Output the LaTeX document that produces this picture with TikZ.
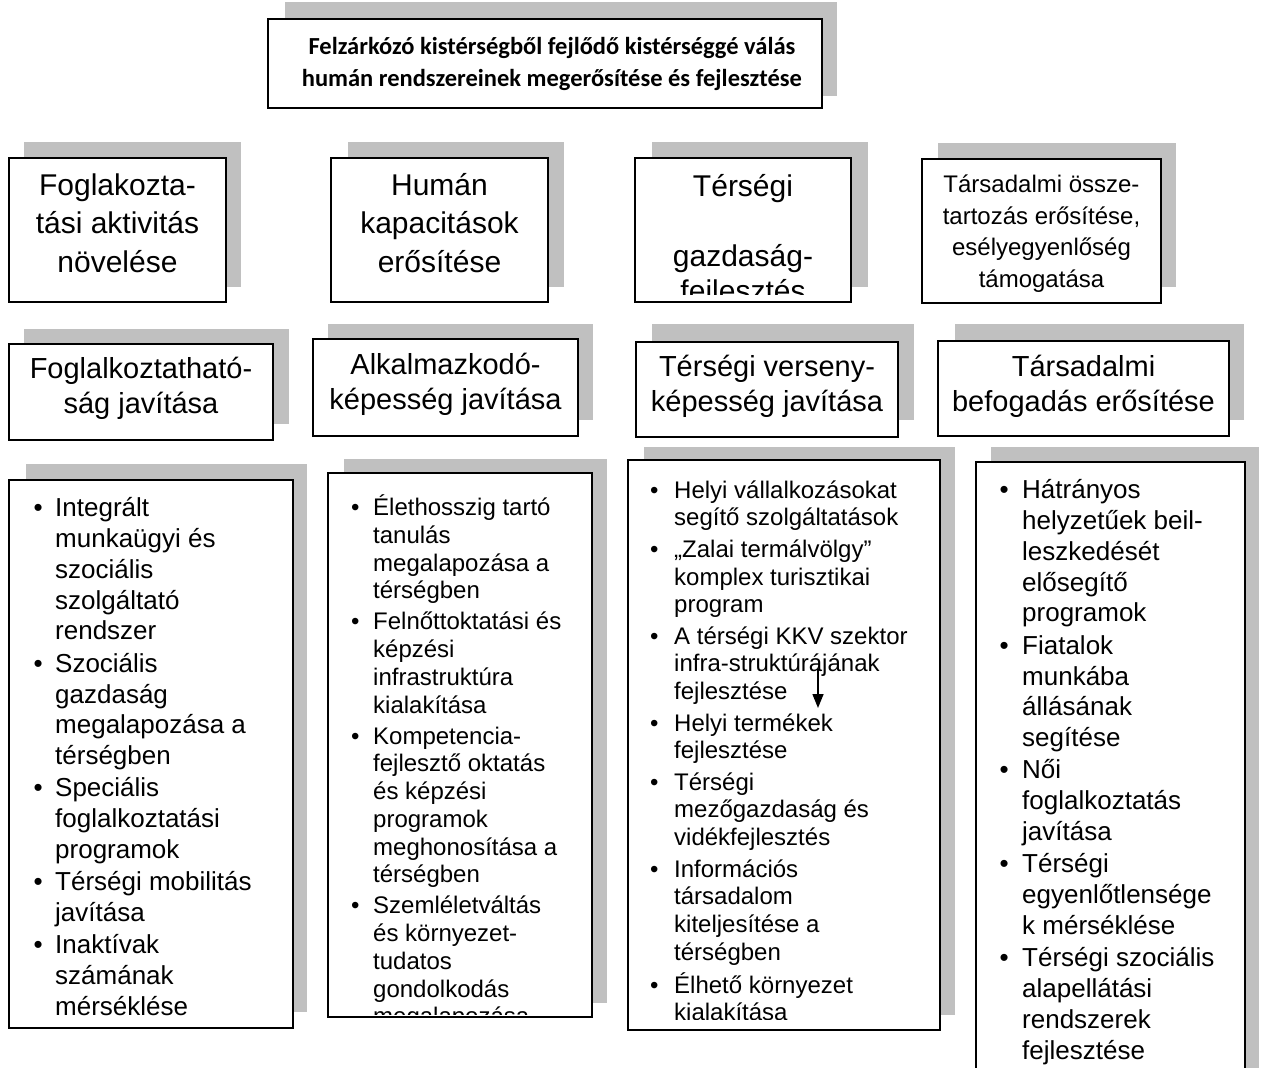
\documentclass[tikz,border=0pt]{standalone}
\usepackage{fontspec}
\setmainfont{Liberation Sans}
\newfontfamily\titlefont{Carlito}
\usetikzlibrary{arrows.meta,fit}
\definecolor{shadowgray}{RGB}{192,192,192}
\newlength\bw
\newcommand\fsz[2]{\fontsize{#1}{#2}\selectfont}
\newcommand\ib{\makebox[\bw][l]{\makebox[0pt]{\textbullet}}}
\newcommand\nb{\hspace*{\bw}}
\newcommand\shadowedbox[9]{%
  \fill[shadowgray] (#6,#7) rectangle (#8,#9);
  \node[framebox, fit={(#2,#3)(#4,#5)}] (#1) {};
}
\tikzset{
  framebox/.style={draw=black, fill=white, line width=1.5pt, inner sep=0pt},
  txt/.style={anchor=north, inner sep=0pt, align=center},
  lst/.style={anchor=north west, inner sep=0pt},
  link/.style={line width=1.5pt, -{Triangle[length=14pt,width=11pt]}}
}
\begin{document}
\begin{tikzpicture}[x=1pt,y=-1pt]
\useasboundingbox (0,0) rectangle (1264,1068);
\clip (0,0) rectangle (1264,1068);

% title
\shadowedbox{title}{268}{19}{822}{108}{285}{2}{837}{96}
\node[txt, font={\titlefont\bfseries\fsz{24.5}{31.5}}] (titletext) at (552,32.5)
  {\begin{tabular}{@{}c@{}}Felzárkózó kistérségből fejlődő kistérséggé válás\\humán rendszereinek megerősítése és fejlesztése\end{tabular}};

% row 2
\shadowedbox{g1}{9}{158}{226}{302}{24}{142}{241}{287}
\shadowedbox{g2}{331}{158}{548}{302}{348}{142}{564}{287}
\shadowedbox{g3}{635}{158}{851}{302}{652}{142}{868}{287}
\shadowedbox{g4}{922}{159}{1161}{303}{938}{143}{1176}{287}

\node[txt, font=\fsz{30}{38.5}] (g1t) at (117.5,168)
  {\begin{tabular}{@{}c@{}}Foglakozta-\\tási aktivitás\\növelése\end{tabular}};
\node[txt, font=\fsz{30}{38.5}] (g2t) at (439.5,168)
  {\begin{tabular}{@{}c@{}}Humán\\kapacitások\\erősítése\end{tabular}};
\begin{scope}
  \clip (636,159) rectangle (850,294);
  \node[txt, font=\fsz{30}{35}] (g3t) at (743,172)
    {\begin{tabular}{@{}c@{}}Térségi\\ \\gazdaság-\\fejlesztés\end{tabular}};
\end{scope}
\node[txt, font=\fsz{24}{31.7}] (g4t) at (1041.5,170)
  {\begin{tabular}{@{}c@{}}Társadalmi össze-\\tartozás erősítése,\\esélyegyenlőség\\támogatása\end{tabular}};

% row 3
\shadowedbox{f1}{9}{344}{273}{440}{24}{329}{289}{424}
\shadowedbox{f2}{313}{339}{578}{436}{328}{324}{593}{420}
\shadowedbox{f3}{636}{342}{898}{437}{652}{324}{914}{420}
\shadowedbox{f4}{938}{341}{1229}{436}{955}{324}{1244}{420}

\node[txt, font=\fsz{29}{35}] (f1t) at (141,354)
  {\begin{tabular}{@{}c@{}}Foglalkoztatható-\\ság javítása\end{tabular}};
\node[txt, font=\fsz{29}{35}] (f2t) at (445.5,350)
  {\begin{tabular}{@{}c@{}}Alkalmazkodó-\\képesség javítása\end{tabular}};
\node[txt, font=\fsz{29}{35}] (f3t) at (767,352)
  {\begin{tabular}{@{}c@{}}Térségi verseny-\\képesség javítása\end{tabular}};
\node[txt, font=\fsz{29}{35}] (f4t) at (1083.5,352)
  {\begin{tabular}{@{}c@{}}Társadalmi\\befogadás erősítése\end{tabular}};

% bottom row
\shadowedbox{d1}{9}{480}{293}{1028}{26}{464}{307}{1012}
\shadowedbox{d2}{328}{473}{592}{1017}{344}{459}{607}{1003}
\shadowedbox{d3}{628}{460}{940}{1030}{644}{447}{955}{1015}
\shadowedbox{d4}{976}{462}{1245}{1085}{991}{447}{1259}{1085}

\node[lst, font={\fsz{26}{30.8}\setlength\bw{17pt}}] (d1t) at (38,495)
  {\begin{tabular}{@{}l@{}}
  \ib Integrált\\ \nb munkaügyi és\\ \nb szociális\\ \nb szolgáltató\\ \nb rendszer\\[1.5pt]
  \ib Szociális\\ \nb gazdaság\\ \nb megalapozása a\\ \nb térségben\\[1.5pt]
  \ib Speciális\\ \nb foglalkoztatási\\ \nb programok\\[1.5pt]
  \ib Térségi mobilitás\\ \nb javítása\\[1.5pt]
  \ib Inaktívak\\ \nb számának\\ \nb mérséklése
  \end{tabular}};

\begin{scope}
  \clip (328,473) rectangle (592,1014);
  \node[lst, font={\fsz{24}{27.7}\setlength\bw{18pt}}] (d2t) at (355,494.6)
  {\begin{tabular}{@{}l@{}}
  \ib Élethosszig tartó\\ \nb tanulás\\ \nb megalapozása a\\ \nb térségben\\[3.5pt]
  \ib Felnőttoktatási és\\ \nb képzési\\ \nb infrastruktúra\\ \nb kialakítása\\[3.5pt]
  \ib Kompetencia-\\ \nb fejlesztő oktatás\\ \nb és képzési\\ \nb programok\\ \nb meghonosítása a\\ \nb térségben\\[3.5pt]
  \ib Szemléletváltás\\ \nb és környezet-\\ \nb tudatos\\ \nb gondolkodás\\ \nb megalapozása
  \end{tabular}};
\end{scope}

\begin{scope}
  \clip (628,460) rectangle (940,1019);
  \node[lst, font={\fsz{24}{27.8}\setlength\bw{20pt}}] (d3t) at (654,478.5)
  {\begin{tabular}{@{}l@{}}
  \ib Helyi vállalkozásokat\\ \nb segítő szolgáltatások\\[3.5pt]
  \ib „Zalai termálvölgy”\\ \nb komplex turisztikai\\ \nb program\\[3.5pt]
  \ib A térségi KKV szektor\\ \nb infra-struktúrájának\\ \nb fejlesztése\\[3.5pt]
  \ib Helyi termékek\\ \nb fejlesztése\\[3.5pt]
  \ib Térségi\\ \nb mezőgazdaság és\\ \nb vidékfejlesztés\\[3.5pt]
  \ib Információs\\ \nb társadalom\\ \nb kiteljesítése a\\ \nb térségben\\[3.5pt]
  \ib Élhető környezet\\ \nb kialakítása
  \end{tabular}};
\end{scope}

\node[lst, font={\fsz{26}{30.8}\setlength\bw{18pt}}] (d4t) at (1004,477)
  {\begin{tabular}{@{}l@{}}
  \ib Hátrányos\\ \nb helyzetűek beil-\\ \nb leszkedését\\ \nb elősegítő\\ \nb programok\\[1.5pt]
  \ib Fiatalok\\ \nb munkába\\ \nb állásának\\ \nb segítése\\[1.5pt]
  \ib Női\\ \nb foglalkoztatás\\ \nb javítása\\[1.5pt]
  \ib Térségi\\ \nb egyenlőtlensége\\ \nb k mérséklése\\[1.5pt]
  \ib Térségi szociális\\ \nb alapellátási\\ \nb rendszerek\\ \nb fejlesztése
  \end{tabular}};

% stray arrow
\coordinate (arrowtop) at (818,669);
\coordinate (arrowend) at (818,708);
\draw[link] (arrowtop) -- (arrowend);
\end{tikzpicture}
\end{document}
